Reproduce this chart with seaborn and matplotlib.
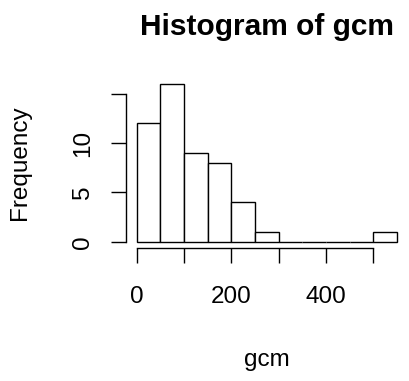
import numpy as np
import matplotlib
matplotlib.use("Agg")
import matplotlib.pyplot as plt
import seaborn as sns

# --- Data: histogram of gcm (bin edges of 50, counts) ---
bin_edges = [0, 50, 100, 150, 200, 250, 300, 350, 400, 450, 500, 550]
counts = [12, 16, 9, 8, 4, 1, 0, 0, 0, 0, 1]
x_ticks = [0, 100, 200, 300, 400, 500]
x_tick_labels = ["0", "", "200", "", "400", ""]
y_ticks = [0, 5, 10, 15]
y_tick_labels = ["0", "5", "10", ""]

bin_mids = [(a + b) / 2 for a, b in zip(bin_edges[:-1], bin_edges[1:])]

sns.set_style("white")
plt.rcParams['font.family'] = ['Liberation Sans', 'DejaVu Sans']
plt.rcParams['text.color'] = 'black'
plt.rcParams['axes.labelcolor'] = 'black'
plt.rcParams['xtick.color'] = 'black'
plt.rcParams['ytick.color'] = 'black'

fig = plt.figure(figsize=(4.09, 3.81), dpi=100)
ax = fig.add_axes([0.309, 0.349, 0.687, 0.447])

sns.histplot(x=bin_mids, weights=counts, bins=bin_edges, ax=ax,
             color="white", edgecolor="black", linewidth=1.0, alpha=1)

ax.set_xlim(-22, 572)
ax.set_ylim(-0.64, 16.64)

# R-style axes: only left and bottom, bounded to tick range
for side in ['top', 'right']:
    ax.spines[side].set_visible(False)
ax.spines['left'].set_bounds(0, 15)
ax.spines['bottom'].set_bounds(0, 500)
for side in ['left', 'bottom']:
    ax.spines[side].set_linewidth(1.0)
    ax.spines[side].set_color('black')

ax.set_xticks(x_ticks)
ax.set_xticklabels(x_tick_labels)
ax.set_yticks(y_ticks)
ax.set_yticklabels(y_tick_labels)
ax.tick_params(axis='both', direction='out', length=11, width=1.0,
               labelsize=17.5, left=True, bottom=True)
ax.tick_params(axis='x', pad=16)
ax.tick_params(axis='y', pad=12)
plt.setp(ax.get_yticklabels(), rotation=90, va='center', ha='right')

ax.set_xlabel("gcm", fontsize=17.5, labelpad=30)
ax.set_ylabel("Frequency", fontsize=17.5, labelpad=30)
ax.set_title("Histogram of gcm", fontsize=21.5, fontweight='bold', pad=31)

fig.savefig("out.png", dpi=100)
